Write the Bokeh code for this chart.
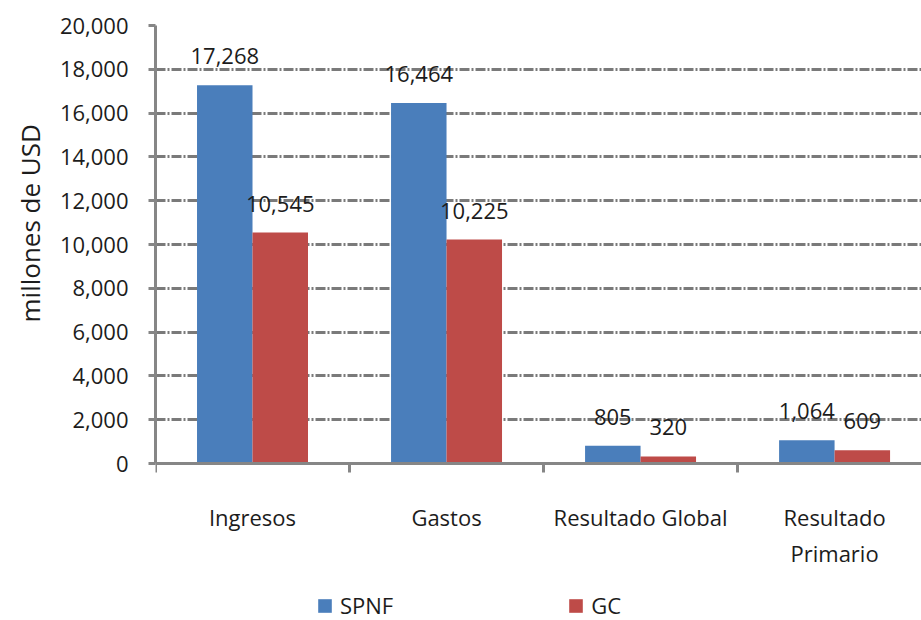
from bokeh.core.properties import value
from bokeh.embed import file_html
from bokeh.models import (ColumnDataSource, FixedTicker, LabelSet, Legend,
                          LegendItem, NumeralTickFormatter, Range1d, Title)
from bokeh.plotting import figure
from bokeh.resources import INLINE

# Fiscal results, millones de USD
categories = ["Ingresos", "Gastos", "Resultado Global", "Resultado\nPrimario"]
spnf = [17268, 16464, 805, 1064]
gc = [10545, 10225, 320, 609]
y_ticks = list(range(0, 20001, 2000))

BLUE = "#4a7ebb"
RED = "#be4b48"
AXIS_GREY = "#868686"
GRID_GREY = "#7a7a7a"
TEXT = "#1c1c1c"
FONT = "Open Sans"

W, H = 921, 620
FRAME_TOP, ZERO_PX = 25, 463          # pixel rows of 20,000 and of 0
Y_MAX = y_ticks[-1]
# the frame reaches the bottom of the canvas; the band under 0 holds
# the category labels and the legend
Y_MIN = -Y_MAX * (H - ZERO_PX) / (ZERO_PX - FRAME_TOP)

n = len(categories)
slot = [i + 0.5 for i in range(n)]
half = 0.143
bar_w = 0.286

src = ColumnDataSource(dict(
    x_spnf=[s - half for s in slot],
    x_gc=[s + half for s in slot],
    spnf=spnf,
    gc=gc,
    spnf_txt=[f"{v:,}" for v in spnf],
    gc_txt=[f"{v:,}" for v in gc],
))

p = figure(width=W, height=H,
           x_range=Range1d(0, 3.948), y_range=Range1d(Y_MIN, Y_MAX),
           output_backend="svg", toolbar_location=None,
           min_border_left=155, min_border_right=0,
           min_border_top=FRAME_TOP, min_border_bottom=0)
p.outline_line_color = None

# dashed horizontal grid
p.xgrid.visible = False
p.ygrid.ticker = FixedTicker(ticks=y_ticks[1:])
p.ygrid.grid_line_color = GRID_GREY
p.ygrid.grid_line_width = 3
p.ygrid.grid_line_dash = "10 2 2 2"

# y axis
yax = p.yaxis[0]
yax.bounds = (0, Y_MAX)
yax.ticker = FixedTicker(ticks=y_ticks)
yax.formatter = NumeralTickFormatter(format="0,0")
yax.axis_line_color = AXIS_GREY
yax.axis_line_width = 3
yax.major_tick_line_color = AXIS_GREY
yax.major_tick_line_width = 3
yax.major_tick_out = 7
yax.major_tick_in = 0
yax.minor_tick_line_color = None
yax.major_label_standoff = 20
yax.major_label_text_font = FONT
yax.major_label_text_font_size = "22px"
yax.major_label_text_color = TEXT

# x axis sits on y = 0: labels at category centres, tick marks at boundaries
xax = p.xaxis[0]
xax.fixed_location = 0
xax.ticker = FixedTicker(ticks=slot, minor_ticks=list(range(n)))
xax.major_label_overrides = dict(zip(slot, categories))
xax.axis_line_color = AXIS_GREY
xax.axis_line_width = 3
xax.major_tick_line_color = None
xax.major_tick_out = 0
xax.major_tick_in = 0
xax.minor_tick_line_color = AXIS_GREY
xax.minor_tick_line_width = 3
xax.minor_tick_out = 9
xax.minor_tick_in = 0
xax.major_label_standoff = 29
xax.major_label_text_font = FONT
xax.major_label_text_font_size = "22px"
xax.major_label_text_color = TEXT
xax.major_label_text_line_height = 1.2

# y axis title
p.add_layout(Title(text="millones de USD", align="left", offset=298, standoff=18,
                   text_font=FONT, text_font_size="26px", text_font_style="normal",
                   text_color=TEXT), "left")

r_spnf = p.vbar(x="x_spnf", top="spnf", width=bar_w, source=src,
                fill_color=BLUE, line_color=None)
r_gc = p.vbar(x="x_gc", top="gc", width=bar_w, source=src,
              fill_color=RED, line_color=None)

# value labels above the bars
for xcol, ycol, tcol in (("x_spnf", "spnf", "spnf_txt"), ("x_gc", "gc", "gc_txt")):
    p.add_layout(LabelSet(x=xcol, y=ycol, text=tcol, source=src,
                          text_align="center", text_baseline="alphabetic",
                          y_offset=21, text_font=value(FONT),
                          text_font_size="22px", text_color=TEXT))

legend = Legend(items=[LegendItem(label="SPNF", renderers=[r_spnf]),
                       LegendItem(label="GC", renderers=[r_gc])],
                orientation="horizontal", location=(161, 0),
                spacing=174, glyph_width=17, glyph_height=17,
                label_standoff=7, label_height=20, padding=0, margin=0,
                border_line_color=None, background_fill_alpha=0,
                label_text_font=FONT, label_text_font_size="22px",
                label_text_color=TEXT)
p.add_layout(legend)

open("out.html", "w").write(file_html(p, INLINE))
